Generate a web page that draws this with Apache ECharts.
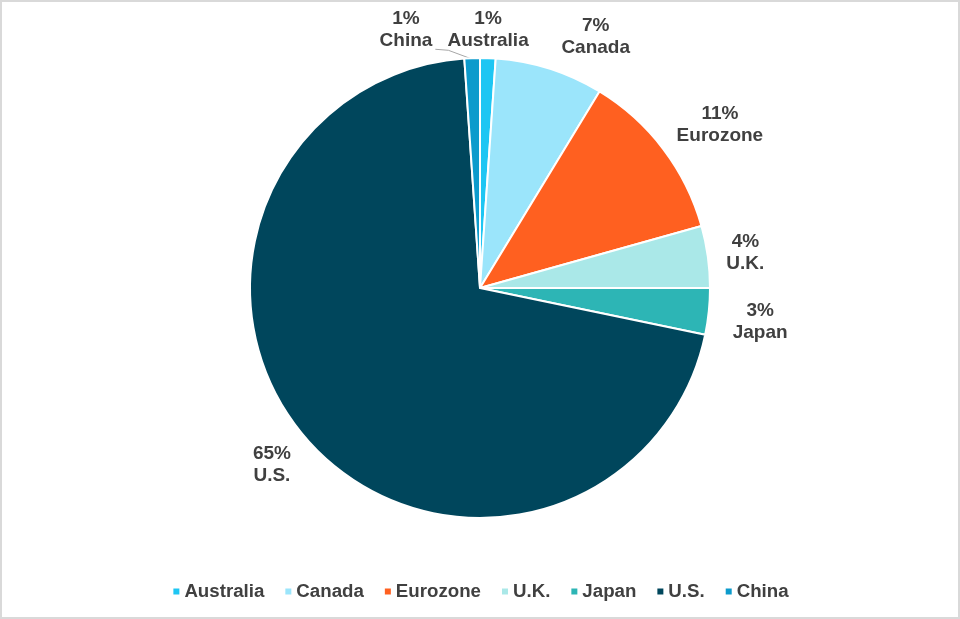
<!DOCTYPE html>
<html>
<head>
<meta charset="utf-8">
<script src="https://cdn.jsdelivr.net/npm/echarts@6/dist/echarts.min.js"></script>
<style>
  html, body { margin: 0; padding: 0; background: #fff; }
  #wrap { position: relative; width: 960px; height: 619px; }
  #chart { position: absolute; left: 0; top: 0; width: 960px; height: 619px; }
  #frame { position: absolute; left: 0; top: 0; width: 960px; height: 619px; box-sizing: border-box; border: 2px solid #d9d9d9; pointer-events: none; }
</style>
</head>
<body>
<div id="wrap"><div id="chart"></div><div id="frame"></div></div>
<script>
const categories = ['Australia', 'Canada', 'Eurozone', 'U.K.', 'Japan', 'U.S.', 'China'];
const shares = [1, 7, 11, 4, 3, 65, 1];
const colors = ['#1ec6f3', '#9be5fb', '#ff6020', '#aae8e8', '#2db5b5', '#00465c', '#0c9bcc'];

// layout constants (not data)
const CX = 480, CY = 288, R = 230, GAP = 12;
// small label nudges [dx, dy] per category, applied after outside placement
const labelNudge = [[-1, 7], [33, 9], [9, 12], [4, 1], [10, 6], [-4, -1], [-65, 6]];

const total = shares.reduce((a, b) => a + b, 0);
const midAngles = [];
let acc = 0;
shares.forEach(v => { midAngles.push((acc + v / 2) / total * 2 * Math.PI); acc += v; });

const chart = echarts.init(document.getElementById('chart'), null, { renderer: 'canvas' });
chart.setOption({
  animation: false,
  color: colors,
  textStyle: { fontFamily: 'Liberation Sans, Arial, sans-serif' },
  legend: {
    data: categories,
    left: 'center',
    top: 577,
    icon: 'rect',
    itemWidth: 8,
    itemHeight: 8,
    itemGap: 19,
    textStyle: { color: '#404040', fontSize: 18.7, fontWeight: 'bold', fontFamily: 'Liberation Sans, Arial, sans-serif', padding: [0, 0, 0, -1] }
  },
  series: [{
    type: 'pie',
    center: [CX, CY],
    radius: R,
    startAngle: 90,
    clockwise: true,
    avoidLabelOverlap: false,
    itemStyle: { borderColor: '#ffffff', borderWidth: 2 },
    label: {
      show: true,
      position: 'outside',
      formatter: '{c}%\n{b}',
      color: '#404040',
      fontSize: 19,
      lineHeight: 22,
      fontWeight: 'bold',
      fontFamily: 'Liberation Sans, Arial, sans-serif'
    },
    labelLine: { show: false },
    labelLayout: function (p) {
      const i = p.dataIndex;
      const a = midAngles[i];
      const ux = Math.sin(a), uy = -Math.cos(a);
      const r = p.labelRect;
      const d = R + GAP + Math.abs(ux) * r.width / 2 + Math.abs(uy) * r.height / 2;
      const x = CX + ux * d + labelNudge[i][0];
      const y = CY + uy * d + labelNudge[i][1];
      const out = { x: x, y: y, align: 'center', verticalAlign: 'middle' };
      if (categories[i] === 'China') {
        const end = [x + r.width / 2 + 3, y + r.height / 2 - 2];
        const bend = [end[0] + 13, end[1] + 1];
        const start = [CX + ux * (R - 1), CY + uy * (R - 1)];
        out.labelLinePoints = [start, bend, end];
      }
      return out;
    },
    data: categories.map((n, i) => ({
      name: n,
      value: shares[i],
      labelLine: n === 'China' ? { show: true, smooth: false, length: 6, length2: 12, lineStyle: { color: '#a6a6a6', width: 1 } } : undefined
    }))
  }]
});
</script>
</body>
</html>
